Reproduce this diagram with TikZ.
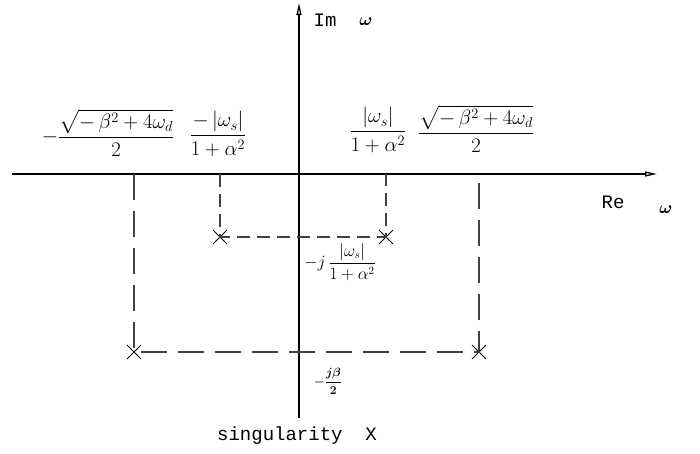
\documentclass[tikz,border=0pt]{standalone}
\usepackage{amsmath, amssymb}
\usepackage{fontspec}
\newfontfamily\cadfont{Liberation Mono}
\usetikzlibrary{arrows.meta, shapes.misc}

\tikzset{
  axisline/.style={line width=1.3pt, -{Triangle[open, length=12pt, width=5pt]}},
  longdash/.style={line width=1.1pt, black!75, dash pattern=on 26pt off 11pt},
  shortdash/.style={line width=1.1pt, black!75, dash pattern=on 13pt off 7pt},
  root/.style={cross out, draw, line width=0.9pt, minimum size=13pt, inner sep=0pt},
  cadtext/.style={font=\cadfont\fontsize{19}{19}\selectfont, inner sep=0pt},
  bigfrac/.style={font=\fontsize{20}{24}\selectfont, inner sep=0pt},
  midfrac/.style={font=\fontsize{16}{18}\selectfont, inner sep=0pt},
  tinyfrac/.style={font=\fontsize{13}{14}\selectfont\boldmath, inner sep=0pt},
  omeg/.style={font=\fontsize{16}{16}\selectfont, inner sep=0pt}
}

\begin{document}
\begin{tikzpicture}[x=1pt, y=-1pt]
        \useasboundingbox (0,0) rectangle (700,453);
        % axes
        \coordinate (ReL) at (12,174);
        \coordinate (ReR) at (657,174);
        \coordinate (ImB) at (299,418);
        \coordinate (ImT) at (299,3);
        \draw[axisline] (ReL) -- (ReR);
        \draw[axisline] (ImB) -- (ImT);
        \node[cadtext] (im) at (325,20) {Im};
        \node[omeg] (imw) at (366,22) {$\boldsymbol{\omega}$};
        \node[cadtext] (re) at (613,202) {Re};
        \node[omeg] (rew) at (666,210) {$\boldsymbol{\omega}$};
        % singularities
        \node[root] (s1) at (220,237) {};
        \node[root] (s2) at (386,237) {};
        \node[root] (s3) at (134,352) {};
        \node[root] (s4) at (479,352) {};
        \coordinate (r1) at (220,174);
        \coordinate (r2) at (386,174);
        \coordinate (r3) at (134,174);
        \coordinate (r4) at (479,174);
        \draw[shortdash] (r1) -- (s1.center) -- (s2.center) -- (r2);
        \draw[longdash] (r3) -- (s3.center) -- (s4.center) -- (r4);
        % labels
        \node[bigfrac] (ln) at (108,133) {$-\dfrac{\sqrt{-\,\beta^2+4\omega_d}}{2}$};
        \node[bigfrac] (ls) at (218,134) {$\dfrac{-\left|\omega_s\right|}{1+\alpha^2}$};
        \node[bigfrac] (rs) at (378,130) {$\dfrac{\left|\omega_s\right|}{1+\alpha^2}$};
        \node[bigfrac] (rn) at (476,129) {$\dfrac{\sqrt{-\,\beta^2+4\omega_d}}{2}$};
        \node[midfrac] (js) at (340,262) {$-j\,\dfrac{\left|\omega_s\right|}{1+\alpha^2}$};
        \node[tinyfrac] (jb) at (328,381) {$-\dfrac{j\beta}{2}$};
        \node[cadtext] (leg) at (297,436) {singularity\ \ X};
\end{tikzpicture}
\end{document}
